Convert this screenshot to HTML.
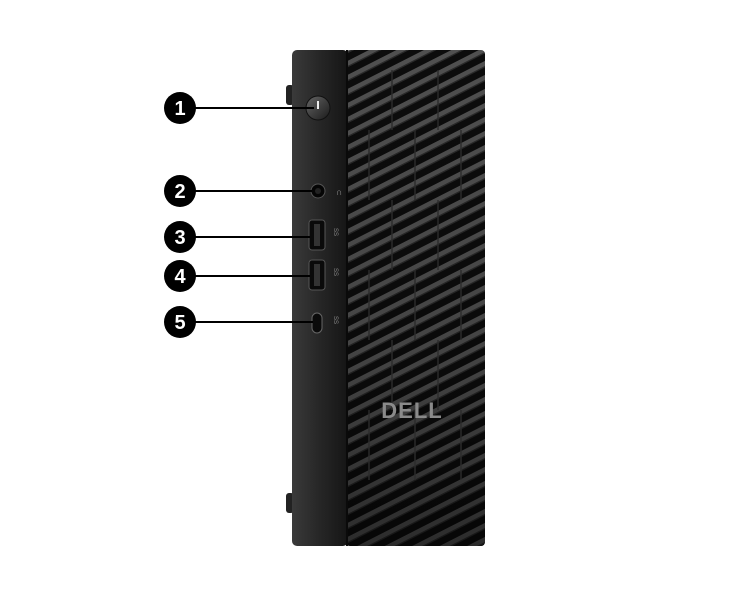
<!DOCTYPE html>
<html><head><style>
body{margin:0;width:750px;height:600px;background:#fff;overflow:hidden}
</style></head><body>
<svg width="750" height="600" viewBox="0 0 750 600" xmlns="http://www.w3.org/2000/svg" font-family="Liberation Sans, sans-serif">
<defs>
<pattern id="stripes" patternUnits="userSpaceOnUse" width="40" height="14" patternTransform="skewY(-27)">
<rect width="40" height="14" fill="#0c0c0c"/>
<rect y="0" width="40" height="5" fill="#505050"/>
<rect y="5" width="40" height="1.5" fill="#2a2a2a"/>
</pattern>
<linearGradient id="side" x1="0" x2="1">
<stop offset="0" stop-color="#3a3a3a"/><stop offset="0.5" stop-color="#262626"/><stop offset="1" stop-color="#151515"/>
</linearGradient>
<linearGradient id="fade" x1="0" y1="0" x2="0" y2="1">
<stop offset="0" stop-color="#000" stop-opacity="0"/><stop offset="0.6" stop-color="#000" stop-opacity="0.15"/><stop offset="1" stop-color="#000" stop-opacity="0.45"/>
</linearGradient>
<linearGradient id="btn" x1="0" y1="0" x2="1" y2="1">
<stop offset="0" stop-color="#666"/><stop offset="1" stop-color="#1a1a1a"/>
</linearGradient>
</defs>
<rect x="286" y="85" width="8" height="20" rx="3" fill="#222"/>
<rect x="286" y="493" width="8" height="20" rx="3" fill="#222"/>
<rect x="292" y="50" width="56" height="496" rx="5" fill="url(#side)"/>
<rect x="346" y="50" width="139" height="496" rx="4" fill="url(#stripes)"/>
<rect x="346" y="50" width="139" height="496" rx="4" fill="url(#fade)"/>
<rect x="346" y="50" width="2" height="496" fill="#0a0a0a"/>
<g stroke="#2c2c2c" stroke-width="2" fill="none" opacity="0.7">
<path d="M392 70 V130 M438 70 V130 M369 130 V200 M415 130 V200 M461 130 V200 M392 200 V270 M438 200 V270 M369 270 V340 M415 270 V340 M461 270 V340 M392 340 V410 M438 340 V410 M369 410 V480 M415 410 V480 M461 410 V480"/>
</g>
<text x="412" y="418" text-anchor="middle" font-size="22" font-weight="bold" fill="#8a8a8a" letter-spacing="1">DELL</text>
<circle cx="318" cy="108" r="12" fill="url(#btn)" stroke="#111" stroke-width="1"/>
<rect x="317" y="101" width="2" height="8" fill="#eee"/>
<circle cx="318" cy="191" r="7" fill="#050505" stroke="#555" stroke-width="1"/>
<circle cx="318" cy="191" r="3" fill="#222"/>
<text x="336" y="195" font-size="9" fill="#999">∩</text>
<rect x="309" y="220" width="16" height="30" rx="3" fill="#0a0a0a" stroke="#555"/>
<rect x="314" y="224" width="6" height="22" fill="#333"/>
<rect x="309" y="260" width="16" height="30" rx="3" fill="#0a0a0a" stroke="#555"/>
<rect x="314" y="264" width="6" height="22" fill="#333"/>
<rect x="312" y="313" width="10" height="20" rx="5" fill="#0a0a0a" stroke="#666"/>
<g font-size="6" fill="#888"><text x="332" y="230" transform="rotate(90 334 230)">SS</text><text x="332" y="270" transform="rotate(90 334 270)">SS</text><text x="332" y="318" transform="rotate(90 334 318)">SS</text></g>
<g stroke="#000" stroke-width="2">
<line x1="180" y1="108" x2="314" y2="108"/>
<line x1="180" y1="191" x2="312" y2="191"/>
<line x1="180" y1="237" x2="310" y2="237"/>
<line x1="180" y1="276" x2="310" y2="276"/>
<line x1="180" y1="322" x2="313" y2="322"/>
</g>
<g fill="#000">
<circle cx="180" cy="108" r="16"/><circle cx="180" cy="191" r="16"/><circle cx="180" cy="237" r="16"/><circle cx="180" cy="276" r="16"/><circle cx="180" cy="322" r="16"/>
</g>
<g fill="#fff" font-size="20" font-weight="bold" text-anchor="middle">
<text x="180" y="115">1</text><text x="180" y="198">2</text><text x="180" y="244">3</text><text x="180" y="283">4</text><text x="180" y="329">5</text>
</g>
</svg>
</body></html>
